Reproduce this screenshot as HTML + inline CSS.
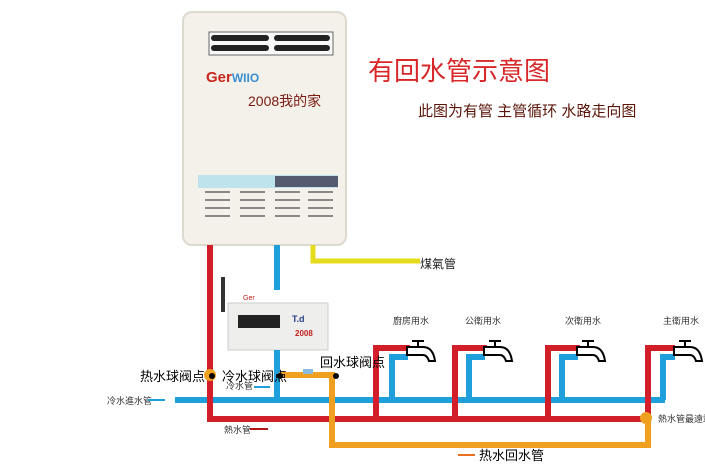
<!DOCTYPE html>
<html><head><meta charset="utf-8"><style>
body{margin:0;background:#fff;}
svg{display:block;font-family:"Liberation Sans","Noto Sans CJK SC",sans-serif;}
</style></head><body>
<svg width="705" height="468" viewBox="0 0 705 468" xmlns="http://www.w3.org/2000/svg">
<rect width="705" height="468" fill="#fff"/>
<!-- heater -->
<rect x="183" y="12" width="163" height="233" rx="9" fill="#f3f1ea" stroke="#dcd9cf" stroke-width="2"/>
<rect x="209" y="32" width="124" height="23" fill="#f8f8f8" stroke="#666" stroke-width="1"/>
<rect x="211" y="35" width="58" height="6" rx="3" fill="#222"/>
<rect x="274" y="35" width="56" height="6" rx="3" fill="#222"/>
<rect x="211" y="45" width="58" height="6" rx="3" fill="#222"/>
<rect x="274" y="45" width="56" height="6" rx="3" fill="#222"/>
<text x="206" y="82" font-size="15" font-weight="bold" fill="#c8281e">Ger<tspan fill="#3a8fd0" font-size="12">WIIO</tspan></text>
<text x="248" y="106" font-size="14" fill="#7a1a10">2008我的家</text>
<rect x="198" y="175" width="140" height="13" fill="#bfe3ec"/>
<rect x="275" y="176" width="63" height="11" fill="#555a70"/>
<g stroke="#666" stroke-width="1.5">
<line x1="205" y1="192" x2="230" y2="192"/><line x1="240" y1="192" x2="265" y2="192"/><line x1="275" y1="192" x2="300" y2="192"/><line x1="308" y1="192" x2="333" y2="192"/>
<line x1="205" y1="200" x2="230" y2="200"/><line x1="240" y1="200" x2="265" y2="200"/><line x1="275" y1="200" x2="300" y2="200"/><line x1="308" y1="200" x2="333" y2="200"/>
<line x1="205" y1="208" x2="230" y2="208"/><line x1="240" y1="208" x2="265" y2="208"/><line x1="275" y1="208" x2="300" y2="208"/><line x1="308" y1="208" x2="333" y2="208"/>
<line x1="205" y1="216" x2="230" y2="216"/><line x1="240" y1="216" x2="265" y2="216"/><line x1="275" y1="216" x2="300" y2="216"/><line x1="308" y1="216" x2="333" y2="216"/>
</g>
<!-- titles -->
<text x="368" y="80" font-size="26" fill="#d8282a">有回水管示意图</text>
<text x="418" y="116" font-size="15" fill="#5a1408">此图为有管 主管循环 水路走向图</text>
<!-- gas -->
<polyline points="313,245 313,261 420,261" fill="none" stroke="#e6dc1e" stroke-width="5"/>
<text x="420" y="268" font-size="12" fill="#222">煤氣管</text>
<!-- controller -->
<rect x="221" y="277" width="4" height="35" fill="#333"/>
<rect x="228" y="303" width="100" height="47" fill="#eeeeec" stroke="#ccc"/>
<rect x="238" y="315" width="42" height="13" fill="#222"/>
<text x="292" y="322" font-size="9" font-weight="bold" fill="#24408a">T.d</text>
<text x="295" y="336" font-size="8" fill="#c02020" font-weight="bold">2008</text>
<text x="243" y="300" font-size="7" fill="#c02020">Ger</text>
<!-- blue pipes -->
<g fill="none" stroke="#1fa0dc" stroke-width="6">
<line x1="277" y1="245" x2="277" y2="290"/>
<line x1="277" y1="350" x2="277" y2="400"/>
<line x1="175" y1="400" x2="665" y2="400"/>
<polyline points="392,400 392,357 408,357"/>
<polyline points="469,400 469,357 485,357"/>
<polyline points="562,400 562,357 578,357"/>
<polyline points="663,400 663,357 675,357"/>
</g>
<!-- red pipes -->
<g fill="none" stroke="#d21e28" stroke-width="6">
<polyline points="210,245 210,419 648,419"/>
<polyline points="376,419 376,348 410,348"/>
<polyline points="455,419 455,348 487,348"/>
<polyline points="548,419 548,348 580,348"/>
<polyline points="648,419 648,348 675,348"/>
</g>
<!-- orange -->
<g fill="none" stroke="#f0a020" stroke-width="6">
<polyline points="279,375 332,375 332,445 648,445 648,419"/>
</g>
<circle cx="210" cy="375" r="6" fill="#f0a020"/>
<circle cx="646" cy="418" r="6" fill="#f0a020"/>
<circle cx="280" cy="376" r="3" fill="#000"/><circle cx="212" cy="376" r="3" fill="#000"/><circle cx="336" cy="376" r="3" fill="#000"/>
<rect x="303" y="369" width="10" height="5" fill="#8bd"/>
<!-- faucets -->
<g fill="#fff" stroke="#000" stroke-width="2">
<path d="M407,347 h16 q10,0 12,14 h-6 q-2,-6 -6,-6 h-16 z"/>
<path d="M484,347 h16 q10,0 12,14 h-6 q-2,-6 -6,-6 h-16 z"/>
<path d="M577,347 h16 q10,0 12,14 h-6 q-2,-6 -6,-6 h-16 z"/>
<path d="M674,347 h16 q10,0 12,14 h-6 q-2,-6 -6,-6 h-16 z"/>
<path d="M412,341 h12 M418,341 v6 M489,341 h12 M495,341 v6 M582,341 h12 M588,341 v6 M679,341 h12 M685,341 v6"/>
</g>
<!-- labels -->
<g font-size="9" fill="#333">
<text x="393" y="324">廚房用水</text><text x="465" y="324">公衛用水</text>
<text x="565" y="324">次衛用水</text><text x="663" y="324">主衛用水</text>
<text x="107" y="404">冷水進水管</text>
<text x="226" y="389">冷水管</text>
<text x="224" y="433">熱水管</text>
<text x="658" y="422">熱水管最遠端</text>
</g>
<g font-size="13" fill="#000">
<text x="140" y="381">热水球阀点</text>
<text x="222" y="381">冷水球阀点</text>
<text x="320" y="367">回水球阀点</text>
<text x="479" y="460">热水回水管</text>
</g>
<line x1="148" y1="400" x2="165" y2="400" stroke="#1fa0dc" stroke-width="2"/>
<line x1="254" y1="387" x2="270" y2="387" stroke="#1fa0dc" stroke-width="2"/>
<line x1="250" y1="429" x2="268" y2="429" stroke="#b01818" stroke-width="2"/>
<line x1="458" y1="455" x2="475" y2="455" stroke="#e87020" stroke-width="2"/>
</svg>
</body></html>
